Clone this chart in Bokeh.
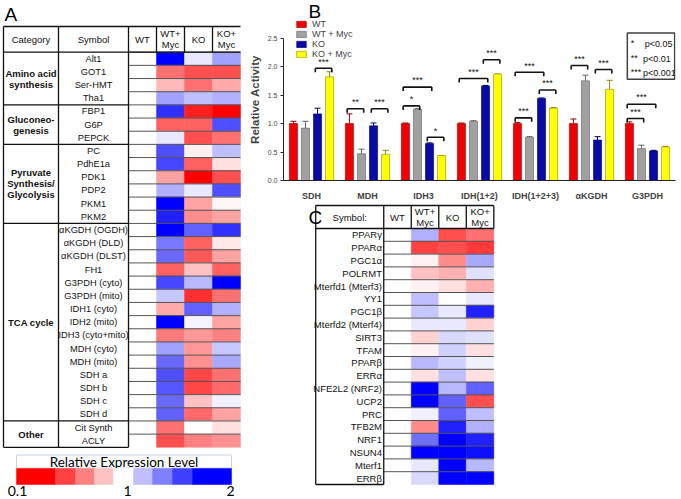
from bokeh.plotting import figure
from bokeh.layouts import row, column
from bokeh.models import (Range1d, ColumnDataSource, LinearColorMapper, Whisker, TeeHead,
                          FixedTicker, PrintfTickFormatter, Legend, LegendItem, BoxAnnotation)
from bokeh.core.properties import value
from bokeh.embed import file_html
from bokeh.resources import INLINE

FONT = "Liberation Sans"

# ---------------- Panel A data (relative expression level, 0.1 .. 2) ----------------
A_CONDITIONS = ["WT", "WT+\nMyc", "KO", "KO+\nMyc"]
A_SYMBOLS = ["Alt1", "GOT1", "Ser-HMT", "Tha1", "FBP1", "G6P", "PEPCK", "PC", "PdhE1a", "PDK1",
             "PDP2", "PKM1", "PKM2", "αKGDH (OGDH)", "αKGDH (DLD)", "αKGDH (DLST)", "FH1",
             "G3PDH (cyto)", "G3PDH (mito)", "IDH1 (cyto)", "IDH2 (mito)", "IDH3 (cyto+mito)",
             "MDH (cyto)", "MDH (mito)", "SDH a", "SDH b", "SDH c", "SDH d", "Cit Synth", "ACLY"]
A_CATEGORIES = ["Amino acid\nsynthesis", "Gluconeo-\ngenesis", "Pyruvate\nSynthesis/\nGlycolysis",
                "TCA cycle", "Other"]
A_CATEGORY_SIZES = [4, 3, 6, 15, 2]
A_WT = [1.0, 1.0, 1.0, 1.0, 1.0, 1.0, 1.0, 1.0, 1.0, 1.0, 1.0, 1.0, 1.0, 1.0, 1.0,
        1.0, 1.0, 1.0, 1.0, 1.0, 1.0, 1.0, 1.0, 1.0, 1.0, 1.0, 1.0, 1.0, 1.0, 1.0]
A_WT_MYC = [2.0, 0.50, 0.75, 1.37, 1.81, 0.44, 1.09, 1.69, 1.72, 0.67, 1.31, 2.0, 1.87, 2.0, 1.53,
            1.59, 0.44, 1.72, 1.22, 0.70, 2.0, 0.53, 1.37, 1.59, 1.69, 1.66, 1.59, 1.62, 0.50, 0.38]
A_KO = [1.09, 0.38, 0.50, 1.25, 0.21, 0.44, 0.38, 0.95, 0.44, 0.10, 1.09, 0.67, 0.59, 1.62, 0.44,
        0.41, 0.78, 1.28, 0.27, 1.62, 1.04, 0.64, 0.64, 0.61, 0.35, 0.35, 0.78, 0.47, 1.0, 0.55]
A_KO_MYC = [1.37, 0.38, 0.70, 1.31, 0.10, 1.69, 0.50, 1.25, 0.89, 0.38, 1.69, 0.97, 0.67, 1.81, 0.92,
            0.67, 0.44, 2.0, 0.50, 1.31, 0.67, 0.55, 1.22, 1.34, 0.50, 0.47, 1.06, 0.67, 0.89, 0.61]
LEGEND_LEVELS = [0.1, 0.325, 0.55, 0.775, 1.0, 1.25, 1.5, 1.75, 2.0]
LEGEND_TICKS = ["0.1", "1", "2"]

# ---------------- Panel B data ----------------
B_GROUPS = ["SDH", "MDH", "IDH3", "IDH(1+2)", "IDH(1+2+3)", "αKGDH", "G3PDH"]
B_SERIES = ["WT", "WT + Myc", "KO", "KO + Myc"]
B_WT = [1.0, 1.0, 1.0, 1.0, 1.0, 1.0, 1.0]
B_WT_ERR = [0.04, 0.17, 0.01, 0.01, 0.02, 0.08, 0.03]
B_WTMYC = [0.92, 0.47, 1.25, 1.04, 0.76, 1.75, 0.56]
B_WTMYC_ERR = [0.12, 0.08, 0.01, 0.01, 0.01, 0.10, 0.06]
B_KO = [1.17, 0.96, 0.65, 1.66, 1.44, 0.71, 0.52]
B_KO_ERR = [0.10, 0.05, 0.01, 0.01, 0.01, 0.06, 0.01]
B_KOMYC = [1.82, 0.46, 0.44, 1.87, 1.27, 1.60, 0.59]
B_KOMYC_ERR = [0.09, 0.07, 0.0, 0.0, 0.01, 0.16, 0.01]
# (group, bar a, bar b, bracket height, label)
B_BRACKETS = [(0, 2, 3, 1.97, "***"), (1, 0, 1, 1.26, "**"), (1, 2, 3, 1.26, "***"),
              (2, 0, 2, 1.64, "***"), (2, 0, 1, 1.31, "*"), (2, 2, 3, 0.76, "*"),
              (3, 0, 2, 1.79, "***"), (3, 2, 3, 2.12, "***"), (4, 0, 2, 1.90, "***"),
              (4, 0, 1, 1.10, "***"), (4, 2, 3, 1.59, "***"), (5, 0, 1, 2.02, "***"),
              (5, 2, 3, 1.95, "***"), (6, 0, 2, 1.34, "***"), (6, 0, 1, 1.09, "***")]
P_KEYS = ["*", "**", "***"]
P_TEXT = ["p<0.05", "p<0.01", "p<0.001"]

# ---------------- Panel C data ----------------
C_SYMBOLS = ["PPARγ", "PPARα", "PGC1α", "POLRMT", "Mterfd1 (Mterf3)", "YY1", "PGC1β",
             "Mterfd2 (Mterf4)", "SIRT3", "TFAM", "PPARβ", "ERRα", "NFE2L2 (NRF2)", "UCP2", "PRC",
             "TFB2M", "NRF1", "NSUN4", "Mterf1", "ERRβ"]
C_WT = [1.0, 1.0, 1.0, 1.0, 1.0, 1.0, 1.0, 1.0, 1.0, 1.0,
        1.0, 1.0, 1.0, 1.0, 1.0, 1.0, 1.0, 1.0, 1.0, 1.0]
C_WT_MYC = [1.31, 0.325, 0.95, 0.78, 0.95, 1.25, 1.22, 1.09, 0.84, 0.95,
            1.28, 0.89, 2.0, 2.0, 1.06, 0.59, 1.56, 2.0, 1.09, 1.15]
C_KO = [0.38, 0.38, 0.59, 0.72, 0.89, 1.0, 1.09, 1.09, 1.15, 1.18,
        1.18, 1.25, 1.28, 1.62, 1.62, 1.87, 2.0, 2.0, 2.0, 2.0]
C_KO_MYC = [0.50, 0.30, 1.34, 1.12, 0.72, 1.09, 1.87, 0.84, 1.12, 0.89,
            1.06, 0.89, 1.62, 0.38, 1.25, 1.31, 1.87, 1.94, 1.28, 2.0]


def expr_color(v):
    if v <= 1.0:
        t = (1.0 - v) / 0.9
        c = int(round(255 * (1 - t)))
        return "#%02x%02x%02x" % (255, c, c)
    t = min(1.0, v - 1.0)
    c = int(round(255 * (1 - t)))
    return "#%02x%02x%02x" % (c, c, 255)


grid_vals = [0.10 + 0.01 * k for k in range(191)]
mapper = LinearColorMapper(palette=[expr_color(v) for v in grid_vals], low=0.095, high=2.005)
cmap = {"field": "v", "transform": mapper}


def canvas(w, h, x0, x1, y0, y1):
    p = figure(width=w, height=h, x_range=Range1d(x0, x1), y_range=Range1d(y1, y0),
               x_axis_type=None, y_axis_type=None, toolbar_location=None, output_backend="svg",
               min_border=0, min_border_left=0, min_border_right=0, min_border_top=0,
               min_border_bottom=0, outline_line_color=None)
    return p


def txt(p, xs, ys, texts, size, align="center", baseline="middle", bold=False, font=FONT, color="#111111"):
    p.text(x=xs, y=ys, text=texts, text_font=value(font), text_font_size=size,
           text_align=align, text_baseline=baseline, text_color=color,
           text_font_style="bold" if bold else "normal")


# =================== Panel A ===================
pa = canvas(243, 499, 0, 243, 0, 499)
AX0, AXC, AXS, ACW = 3, 58, 128, 28
AHT, AY0, ARH = 26, 51.7, 13.17
n_a = len(A_SYMBOLS)
AYB = AY0 + ARH * n_a

xs, ys, vs = [], [], []
for j, col in enumerate([A_WT, A_WT_MYC, A_KO, A_KO_MYC]):
    for i, v in enumerate(col):
        xs.append(AXS + ACW * (j + 0.5))
        ys.append(AY0 + ARH * (i + 0.5))
        vs.append(v)
pa.rect(x="x", y="y", width=ACW, height=ARH, source=ColumnDataSource(dict(x=xs, y=ys, v=vs)),
        fill_color=cmap, line_color=cmap, line_width=0.5)

# grid lines
x0s, y0s, x1s, y1s = [], [], [], []
for i in range(n_a):
    yy = AY0 + ARH * i
    x0s.append(AXS); x1s.append(AXS + 4 * ACW); y0s.append(yy); y1s.append(yy)
pa.segment(x0=x0s, y0=y0s, x1=x1s, y1=y1s, line_color="#555555", line_width=1)
gx0, gy0, gx1, gy1 = [AX0, AX0, AX0], [AHT, AY0, AYB], [AXS + 4 * ACW, AXS + 4 * ACW, AXS], [AHT, AY0, AYB]
acc = 0
for s in A_CATEGORY_SIZES[:-1]:
    acc += s
    yy = AY0 + ARH * acc
    gx0.append(AX0); gx1.append(AXS); gy0.append(yy); gy1.append(yy)
for xx in [AX0, AXC, AXS]:
    gx0.append(xx); gx1.append(xx); gy0.append(AHT); gy1.append(AYB)
for j in range(1, 4):
    xx = AXS + ACW * j
    gx0.append(xx); gx1.append(xx); gy0.append(AHT); gy1.append(AY0)
pa.segment(x0=gx0, y0=gy0, x1=gx1, y1=gy1, line_color="#111111", line_width=1.3)

# header
hx, hy, ht = [(AX0 + AXC) / 2, (AXC + AXS) / 2], [(AHT + AY0) / 2] * 2, ["Category", "Symbol"]
for j, c in enumerate(A_CONDITIONS):
    parts = c.split("\n")
    for k, part in enumerate(parts):
        hx.append(AXS + ACW * (j + 0.5))
        hy.append((AHT + AY0) / 2 + (k - (len(parts) - 1) / 2) * 11)
        ht.append(part)
txt(pa, hx, hy, ht, "9.5px")

# symbols
txt(pa, [(AXC + AXS) / 2] * n_a, [AY0 + ARH * (i + 0.5) for i in range(n_a)], A_SYMBOLS, "9.3px")

# categories
cx, cy, ct = [], [], []
acc = 0
for name, s in zip(A_CATEGORIES, A_CATEGORY_SIZES):
    mid = AY0 + ARH * (acc + s / 2)
    parts = name.split("\n")
    for k, part in enumerate(parts):
        cx.append((AX0 + AXC) / 2)
        cy.append(mid + (k - (len(parts) - 1) / 2) * 11)
        ct.append(part)
    acc += s
txt(pa, cx, cy, ct, "9.5px", bold=True)

txt(pa, [4], [3], ["A"], "19px", align="left", baseline="top", color="#000000")

# legend
pa.rect(x=[123.5], y=[461], width=[215], height=[13], fill_color="white",
        line_color="#c9d1e3", line_width=1)
txt(pa, [123.5], [461.3], ["Relative Expression Level"], "13.5px", font="Lato", color="#000000")
widths = [39, 20, 19, 19, 20, 19, 20, 20, 39]
lx, lw = [], []
start = 16
for w in widths:
    lx.append(start + w / 2); lw.append(w); start += w
pa.rect(x="x", y=476, width="w", height=16,
        source=ColumnDataSource(dict(x=lx, w=lw, v=LEGEND_LEVELS)),
        fill_color=cmap, line_color=cmap, line_width=0.5)
txt(pa, [17, 127, 230], [485.5, 485.5, 485.5], LEGEND_TICKS, "14px", font="Lato",
    baseline="top", color="#000000")

# =================== Panel B ===================
pbl = canvas(438, 18, 243, 681, 0, 18)
txt(pbl, [271], [0], ["B"], "19px", align="left", baseline="top", color="#000000")

pb = figure(width=438, height=185, x_range=Range1d(0, 7), y_range=Range1d(0, 2.845),
            toolbar_location=None, output_backend="svg", min_border_left=40, min_border_right=6,
            min_border_top=0, min_border_bottom=20, outline_line_color=None)
pb.grid.visible = False
pb.yaxis.ticker = FixedTicker(ticks=[0, 0.5, 1.0, 1.5, 2.0, 2.5])
pb.yaxis.formatter = PrintfTickFormatter(format="%.1f")
pb.yaxis.bounds = (0, 2.5)
pb.yaxis.major_label_text_font_size = "7px"
pb.yaxis.major_label_text_font = FONT
pb.yaxis.axis_label = "Relative Activity"
pb.yaxis.axis_label_text_font = FONT
pb.yaxis.axis_label_text_font_style = "bold"
pb.yaxis.axis_label_text_font_size = "11.5px"
pb.yaxis.axis_label_standoff = 4
pb.yaxis.major_label_standoff = 3
pb.yaxis.minor_tick_line_color = None
pb.yaxis.major_tick_out = 3
pb.yaxis.major_tick_in = 0
pb.xaxis.ticker = FixedTicker(ticks=[i + 0.5 for i in range(len(B_GROUPS))])
pb.xaxis.major_label_overrides = {i + 0.5: g for i, g in enumerate(B_GROUPS)}
pb.xaxis.major_tick_line_color = None
pb.xaxis.minor_tick_line_color = None
pb.xaxis.major_label_text_font = FONT
pb.xaxis.major_label_text_font_style = "bold"
pb.xaxis.major_label_text_font_size = "9px"
pb.xaxis.major_label_standoff = 4
pb.axis.axis_line_color = "#222222"
pb.yaxis.major_tick_line_color = "#222222"

OFFS = [-0.323, -0.108, 0.108, 0.323]
BW = 0.145
colors = ["#ee0000", "#a0a0a0", "#0a0aa8", "#ffff00"]
edge = ["#990000", "#606060", "#000060", "#8a8a00"]
series = [(B_WT, B_WT_ERR), (B_WTMYC, B_WTMYC_ERR), (B_KO, B_KO_ERR), (B_KOMYC, B_KOMYC_ERR)]
items = []
for k, (vals, errs) in enumerate(series):
    src = ColumnDataSource(dict(x=[i + 0.5 + OFFS[k] for i in range(len(vals))], top=vals,
                                upper=[v + e for v, e in zip(vals, errs)]))
    r = pb.vbar(x="x", top="top", width=BW, source=src, fill_color=colors[k],
                line_color=edge[k], line_width=0.6)
    items.append(LegendItem(label=B_SERIES[k], renderers=[r]))
    pb.add_layout(Whisker(source=src, base="x", lower="top", upper="upper", line_color=edge[k],
                          line_width=1, lower_head=None,
                          upper_head=TeeHead(size=6, line_color=edge[k], line_width=1)))

legend = Legend(items=items, location=(12, 121), orientation="vertical", glyph_width=12,
                glyph_height=8, label_height=8, spacing=-3, padding=0, margin=0,
                label_text_font=FONT, label_text_font_size="9px", label_standoff=5,
                border_line_color=None, background_fill_alpha=0)
pb.add_layout(legend)

bx0, by0, bx1, by1, sx, sy, st = [], [], [], [], [], [], []
for g, a, b, h, lab in B_BRACKETS:
    xa = g + 0.5 + OFFS[a] - 0.04
    xb = g + 0.5 + OFFS[b] + 0.04
    bx0 += [xa, xa, xb]; bx1 += [xb, xa, xb]
    by0 += [h, h, h]; by1 += [h, h - 0.07, h - 0.07]
    sx.append((xa + xb) / 2); sy.append(h + 0.03); st.append(lab)
pb.segment(x0=bx0, y0=by0, x1=bx1, y1=by1, line_color="#111111", line_width=1.6)
txt(pb, sx, sy, st, "9px", baseline="bottom")

pb.add_layout(BoxAnnotation(left=6.14, right=6.985, top=2.59, bottom=1.78, fill_alpha=0,
                            line_color="#404040", line_width=1.5, line_alpha=1))
txt(pb, [6.2, 6.2, 6.2], [2.50, 2.24, 1.99], P_KEYS, "9px", align="left", baseline="top")
txt(pb, [6.45, 6.42, 6.42], [2.40, 2.14, 1.89], P_TEXT, "9px", align="left")

# =================== Panel C ===================
pc = canvas(438, 296, 243, 681, 203, 499)
CX0, CXS, CCW = 279, 355, 30.75
CHT, CY0, CRH = 205, 228, 12.8
n_c = len(C_SYMBOLS)
CYB = CY0 + CRH * n_c
xs, ys, vs = [], [], []
for j, col in enumerate([C_WT, C_WT_MYC, C_KO, C_KO_MYC]):
    for i, v in enumerate(col):
        xs.append(CXS + CCW * (j + 0.5))
        ys.append(CY0 + CRH * (i + 0.5))
        vs.append(v)
pc.rect(x="x", y="y", width=CCW, height=CRH, source=ColumnDataSource(dict(x=xs, y=ys, v=vs)),
        fill_color=cmap, line_color=cmap, line_width=0.5)
x0s, y0s, x1s, y1s = [], [], [], []
for i in range(1, n_c):
    yy = CY0 + CRH * i
    x0s.append(CXS); x1s.append(CXS + 4 * CCW); y0s.append(yy); y1s.append(yy)
pc.segment(x0=x0s, y0=y0s, x1=x1s, y1=y1s, line_color="#555555", line_width=1)
gx0 = [CX0, CX0, CX0, CX0, CXS]
gx1 = [CXS + 4 * CCW, CXS + 4 * CCW, CXS, CX0, CXS]
gy0 = [CHT, CY0, CYB, CHT, CHT]
gy1 = [CHT, CY0, CYB, CYB, CYB]
for j in range(1, 5):
    xx = CXS + CCW * j
    gx0.append(xx); gx1.append(xx); gy0.append(CHT); gy1.append(CY0)
pc.segment(x0=gx0, y0=gy0, x1=gx1, y1=gy1, line_color="#111111", line_width=1.3)
hx, hy, ht = [(CX0 + CXS) / 2], [(CHT + CY0) / 2], ["Symbol:"]
for j, c in enumerate(A_CONDITIONS):
    parts = c.split("\n")
    for k, part in enumerate(parts):
        hx.append(CXS + CCW * (j + 0.5))
        hy.append((CHT + CY0) / 2 + (k - (len(parts) - 1) / 2) * 10.5)
        ht.append(part)
txt(pc, hx, hy, ht, "9.5px")
txt(pc, [CXS - 2] * n_c, [CY0 + CRH * (i + 0.5) for i in range(n_c)], C_SYMBOLS, "9.5px", align="right")
txt(pc, [271], [206], ["C"], "19px", align="left", baseline="top", color="#000000")

layout = row(pa, column(pbl, pb, pc, spacing=0), spacing=0)
open("out.html", "w").write(file_html(layout, INLINE))
